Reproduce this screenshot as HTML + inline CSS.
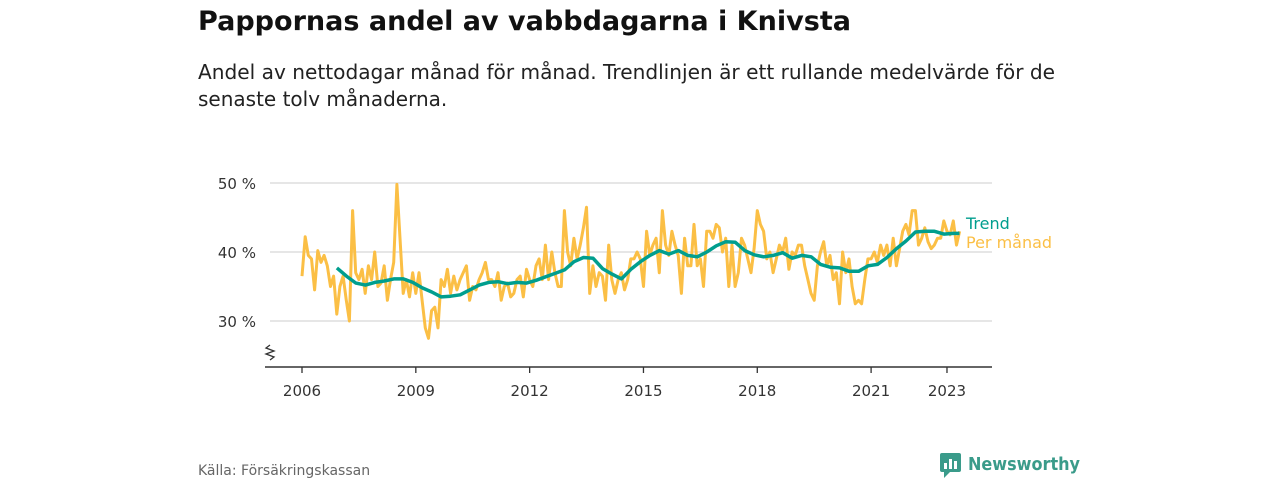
<!DOCTYPE html>
<html><head><meta charset="utf-8"><style>
body{margin:0;width:1280px;height:480px;background:#fff;font-family:"Liberation Sans","DejaVu Sans",sans-serif;overflow:hidden}
</style></head><body>
<svg width="1280" height="480" viewBox="0 0 1280 480">
<text x="198" y="30" font-size="26.8" font-weight="bold" fill="#111" font-family="DejaVu Sans, sans-serif" textLength="653" lengthAdjust="spacingAndGlyphs">Pappornas andel av vabbdagarna i Knivsta</text>
<text x="198" y="79" font-size="20" fill="#222" font-family="DejaVu Sans, sans-serif" textLength="857" lengthAdjust="spacingAndGlyphs">Andel av nettodagar månad för månad. Trendlinjen är ett rullande medelvärde för de</text>
<text x="198" y="106" font-size="20" fill="#222" font-family="DejaVu Sans, sans-serif">senaste tolv månaderna.</text>
<g id="grid"></g><g id="marks"></g>
<line x1="265" y1="367" x2="992" y2="367" stroke="#333" stroke-width="1.5"/>
<path d="M270 345 l-4 3 l8 3 l-8 3 l8 3 l-4 3" fill="none" stroke="#333" stroke-width="1.3"/>
<text x="966" y="229" font-size="16" fill="#009e8e" font-family="DejaVu Sans, sans-serif">Trend</text>
<text x="966" y="248" font-size="16" fill="#fbbf45" font-family="DejaVu Sans, sans-serif">Per månad</text>
<text x="198" y="475" font-size="14" fill="#666" font-family="DejaVu Sans, sans-serif">Källa: Försäkringskassan</text>
<g>
<rect x="940" y="453" width="21" height="19" rx="2" fill="#3a9b8a"/>
<path d="M944 472 l0 6 l6 -6z" fill="#3a9b8a"/>
<rect x="944" y="463" width="3" height="6" fill="#fff"/><rect x="949" y="459" width="3" height="10" fill="#fff"/><rect x="954" y="461" width="3" height="8" fill="#fff"/>
<text x="968" y="470" font-size="18" font-weight="bold" fill="#3a9b8a" font-family="DejaVu Sans, sans-serif" textLength="112" lengthAdjust="spacingAndGlyphs">Newsworthy</text>
</g>
</svg>
<script>
const monthlyValues=[
36.5,42.2,39.5,39,34.5,40.2,38.5,39.5,38,35,36.5,31,
35,36.5,33,30,46,37,36,37.5,34,38,36,40,
35,35.5,38,33,36,38.5,49.8,42,34,36,33.5,37,
34,37,33,29,27.5,31.5,32,29,36,35,37.5,34,
36.5,34.5,36,37,38,33,35,34.5,36,37,38.5,36,
36,35,37,33,35,35.5,33.5,34,36,36.5,33.5,37.5,
36,35,38,39,36,41,36,40,37,35,35,46,
40,38,42,39,41,43.5,46.5,34,38,35,37,36.5,
33,41,36,34,36,37,34.5,36,39,39,40,39,
35,43,39.5,41,42,37,46,41,39.5,43,41,39.5,
34,42,38,38,44,38,39,35,43,43,42,44,
43.5,40,42,35,41,35,37,42,41,39,37,40.5,
46,44,43,39,40,37,39,41,40,42,37.5,40,
39.5,41,41,38,36,34,33,38,40,41.5,38,39.5,
36,37,32.5,40,37,39,35,32.5,33,32.5,36,39,
39,40,38.5,41,39.5,41,38,42,38,40.5,43,44,
42.5,46,46,41,42,43.5,41.5,40.5,41,42,42,44.5,
43,42.5,44.5,41,43];
const startYear=2006;
const trendDates=[2006.92,2007.17,2007.42,2007.67,2007.92,2008.17,2008.42,2008.67,2008.92,2009.17,2009.42,2009.67,2009.92,2010.17,2010.42,2010.67,2010.92,2011.17,2011.42,2011.67,2011.92,2012.17,2012.42,2012.67,2012.92,2013.17,2013.42,2013.67,2013.92,2014.17,2014.42,2014.67,2014.92,2015.17,2015.42,2015.67,2015.92,2016.17,2016.42,2016.67,2016.92,2017.17,2017.42,2017.67,2017.92,2018.17,2018.42,2018.67,2018.92,2019.17,2019.42,2019.67,2019.92,2020.17,2020.42,2020.67,2020.92,2021.17,2021.42,2021.67,2021.92,2022.17,2022.42,2022.67,2022.92,2023.17,2023.33];
const trendValues=[37.7,36.5,35.5,35.2,35.6,35.8,36.1,36.1,35.6,34.8,34.2,33.5,33.6,33.8,34.5,35.2,35.6,35.7,35.4,35.6,35.5,35.9,36.4,36.9,37.4,38.6,39.2,39.1,37.6,36.8,36.1,37.5,38.6,39.5,40.2,39.7,40.2,39.5,39.3,40.0,40.9,41.5,41.4,40.2,39.6,39.3,39.5,39.9,39.1,39.5,39.3,38.2,37.8,37.7,37.2,37.2,38.0,38.2,39.2,40.5,41.6,42.9,43.0,43.0,42.6,42.7,42.7];
const yTicks=[30,40,50];
const xTicks=[2006,2009,2012,2015,2018,2021,2023];
const NS='http://www.w3.org/2000/svg';
const xs=y=>302+(y-2006)*37.94;
const ys=v=>252-(v-40)*6.9;
const grid=document.getElementById('grid'),marks=document.getElementById('marks');
function mk(tag,attrs,parent){const e=document.createElementNS(NS,tag);for(const k in attrs)e.setAttribute(k,attrs[k]);parent.appendChild(e);return e;}
yTicks.forEach(t=>{
  const l=mk('line',{x1:270,x2:992,y1:ys(t),y2:ys(t),stroke:'#d8d8d8','stroke-width':1.3},grid);
  
  
  const tx=mk('text',{x:256,y:ys(t)+6,'text-anchor':'end','font-size':15,fill:'#333','font-family':'DejaVu Sans, sans-serif'},grid);
  tx.textContent=t+' %';
  
  
});
xTicks.forEach(t=>{
  const l=mk('line',{x1:xs(t),x2:xs(t),y1:367,y2:373,stroke:'#333','stroke-width':1.3},grid);
  
  
  const tx=mk('text',{x:xs(t),y:396,'text-anchor':'middle','font-size':15,fill:'#333','font-family':'DejaVu Sans, sans-serif'},grid);
  tx.textContent=t;
  
  
});
const mp=monthlyValues.map((v,i)=>xs(startYear+i/12).toFixed(1)+','+ys(v).toFixed(1)).join(' ');
const ml=mk('polyline',{points:mp,fill:'none',stroke:'#fbbf45','stroke-width':3,'stroke-linejoin':'round'},marks);


const tp=trendValues.map((v,i)=>xs(trendDates[i]).toFixed(1)+','+ys(v).toFixed(1)).join(' ');
const tl=mk('polyline',{points:tp,fill:'none',stroke:'#009e8e','stroke-width':3.5,'stroke-linejoin':'round'},marks);


</script>
</body></html>
